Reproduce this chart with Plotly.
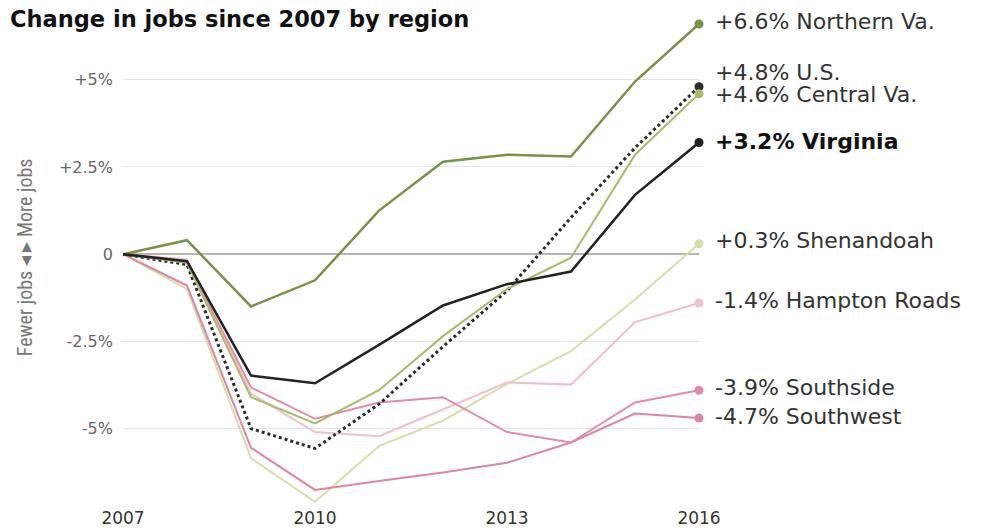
import plotly.graph_objects as go

years = [2007, 2008, 2009, 2010, 2011, 2012, 2013, 2014, 2015, 2016]

northern_va = [0, 0.4, -1.5, -0.75, 1.25, 2.65, 2.85, 2.8, 4.95, 6.6]
us = [0, -0.3, -5.0, -5.57, -4.3, -2.65, -1.05, 1.05, 3.05, 4.8]
central_va = [0, -0.25, -4.1, -4.85, -3.9, -2.35, -1.0, -0.1, 2.85, 4.6]
virginia = [0, -0.2, -3.48, -3.7, -2.6, -1.47, -0.86, -0.5, 1.7, 3.2]
shenandoah = [0, -1.0, -5.85, -7.1, -5.5, -4.77, -3.72, -2.78, -1.3, 0.3]
hampton_roads = [0, -0.15, -4.0, -5.1, -5.22, -4.45, -3.68, -3.74, -1.95, -1.4]
southside = [0, -0.2, -3.82, -4.72, -4.25, -4.1, -5.1, -5.4, -4.25, -3.9]
southwest = [0, -0.9, -5.55, -6.76, -6.5, -6.26, -5.98, -5.4, -4.57, -4.7]

names = ["Shenandoah", "Hampton Roads", "Southwest", "Southside",
         "Northern Va.", "U.S.", "Central Va.", "Virginia"]
labels = ["+0.3% Shenandoah", "-1.4% Hampton Roads", "-4.7% Southwest",
          "-3.9% Southside", "+6.6% Northern Va.", "+4.8% U.S.",
          "+4.6% Central Va.", "<b>+3.2% Virginia</b>"]
series = [shenandoah, hampton_roads, southwest, southside,
          northern_va, us, central_va, virginia]

tick_vals_y = [5, 2.5, 0, -2.5, -5]
tick_text_y = ["+5%", "+2.5%", "0", "-2.5%", "-5%"]
tick_vals_x = [2007, 2010, 2013, 2016]
tick_text_x = ["2007", "2010", "2013", "2016"]

# styles
colors = ["#d6ddaa", "#f2c0c8", "#dc86a0", "#e08ca5",
          "#7a9148", "#2b2b2b", "#a6bc6c", "#222222"]
widths = [2, 2, 2, 2, 2.5, 3, 2, 2.5]
dashes = ["solid"] * 5 + ["dot"] + ["solid"] * 2
label_yshift = [3, 3, 2, 3, 2, 14, -1, 1]
label_colors = ["#333"] * 7 + ["#111"]

OFF = 8  # page body margin
Y_MIN, Y_MAX = -7.22, 7.0
PX_PER_UNIT = 34.86
W, H = 981 - OFF, 528 - OFF
L, R = 123 - OFF, 699 - OFF
T = 254 - Y_MAX * PX_PER_UNIT - OFF
B = 254 - Y_MIN * PX_PER_UNIT - OFF

FONT = "DejaVu Sans, Verdana, sans-serif"

fig = go.Figure()
for s, c, w, d, n in zip(series, colors, widths, dashes, names):
    fig.add_trace(go.Scatter(x=years, y=s, mode="lines", name=n,
                             line=dict(color=c, width=w, dash=d),
                             cliponaxis=False, hoverinfo="skip"))

# end dots
fig.add_trace(go.Scatter(x=[years[-1]] * len(series), y=[s[-1] for s in series],
                         mode="markers", cliponaxis=False, hoverinfo="skip",
                         marker=dict(color=colors, size=9, line=dict(width=0))))

for s, lab, ys, lc in zip(series, labels, label_yshift, label_colors):
    fig.add_annotation(x=years[-1], y=s[-1], xref="x", yref="y", text=lab,
                       showarrow=False, xanchor="left", yanchor="middle",
                       xshift=14, yshift=ys,
                       font=dict(family=FONT, size=22, color=lc))


def px_x(p):
    return (p - OFF - L) / (R - L)


def px_y(p):
    return 1 - (p - OFF - T) / (B - T)


fig.add_annotation(xref="paper", yref="paper", x=px_x(9), y=px_y(19),
                   xanchor="left", yanchor="middle", showarrow=False,
                   borderpad=0,
                   text="<b>Change in jobs since 2007 by region</b>",
                   font=dict(family=FONT, size=22.5, color="#111"))

fig.add_annotation(xref="paper", yref="paper", x=px_x(25), y=px_y(257),
                   xanchor="center", yanchor="middle", showarrow=False,
                   textangle=-90, text="Fewer jobs \u25C2 \u25B8 More jobs",
                   font=dict(family="Liberation Sans Narrow, Roboto Condensed, Liberation Sans, sans-serif",
                             size=20, color="#777"))

fig.update_layout(
    width=W, height=H,
    template="none",
    paper_bgcolor="white", plot_bgcolor="white",
    showlegend=False,
    margin=dict(l=L, r=W - R, t=T, b=H - B, pad=0),
    xaxis=dict(range=[2007, 2016], tickvals=tick_vals_x, ticktext=tick_text_x,
               showgrid=False, zeroline=False, showline=False, ticks="",
               automargin=False,
               tickfont=dict(family=FONT, size=17, color="#333")),
    yaxis=dict(range=[Y_MIN, Y_MAX], tickvals=tick_vals_y, ticktext=tick_text_y,
               showgrid=True, gridcolor="#e4e4e4", gridwidth=1,
               zeroline=True, zerolinecolor="#b5b5b5", zerolinewidth=1.5,
               showline=False, ticks="", automargin=False,
               ticklabelstandoff=9,
               tickfont=dict(family=FONT, size=16, color="#666")),
)

fig.write_html("out.html")
